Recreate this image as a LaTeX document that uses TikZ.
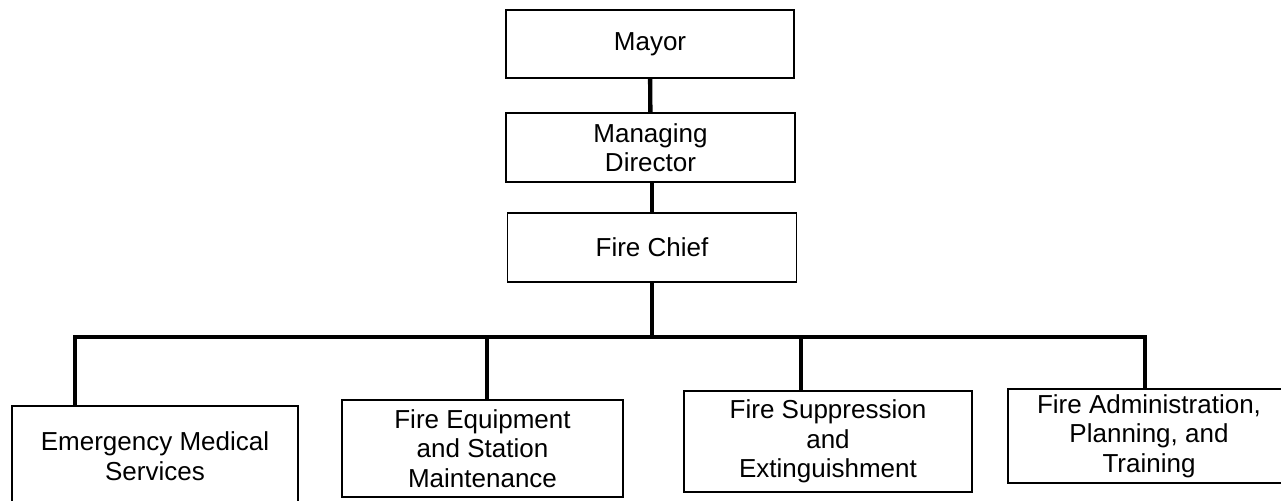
\documentclass[tikz,border=0pt]{standalone}
\usepackage{fontspec}
\setmainfont{Liberation Sans}
\begin{document}
\begin{tikzpicture}[x=0.5pt, y=-0.5pt,
    box/.style={draw, line width=0.8pt, align=center, inner sep=0pt,
      font=\fontsize{13pt}{14.8pt}\selectfont},
    link/.style={line width=2.2pt}]
  \useasboundingbox (0, 0) rectangle (1281, 500);

  \node[box, minimum width=144pt, minimum height=34pt] (mayor) at (650, 44) {Mayor};
  \node[box, minimum width=144.5pt, minimum height=34.5pt] (director) at (650.5, 147.5) {Managing\\Director};
  \node[box, minimum width=144.5pt, minimum height=34.5pt] (chief) at (652, 247.5) {Fire Chief};

  \node[box, minimum width=143pt, minimum height=50pt] (ems) at (155, 456) {Emergency Medical\\Services};
  \node[box, minimum width=140.5pt, minimum height=48.5pt] (equip) at (482.5, 448.5) {Fire Equipment\\and Station\\Maintenance};
  \node[box, minimum width=144pt, minimum height=50.5pt] (supp) at (828, 441.5) {Fire Suppression\\and\\Extinguishment};
  \node[box, minimum width=141pt, minimum height=47pt] (admin) at (1149, 436) {Fire Administration,\\Planning, and\\Training};

  \coordinate (j1) at (75, 337);
  \coordinate (j2) at (487, 337);
  \coordinate (j3) at (801, 337);
  \coordinate (j4) at (1145, 337);

  \draw[link] (mayor) -- (director);
  \draw[link] (director.south -| chief) -- (chief);
  \draw[link] (chief.south) -- (chief.south |- j1);
  \draw[link, line cap=rect] (j1) -- (j4);
  \draw[link] (j1) -- (j1 |- ems.north);
  \draw[link] (j2) -- (j2 |- equip.north);
  \draw[link] (j3) -- (j3 |- supp.north);
  \draw[link] (j4) -- (j4 |- admin.north);
\end{tikzpicture}
\end{document}
